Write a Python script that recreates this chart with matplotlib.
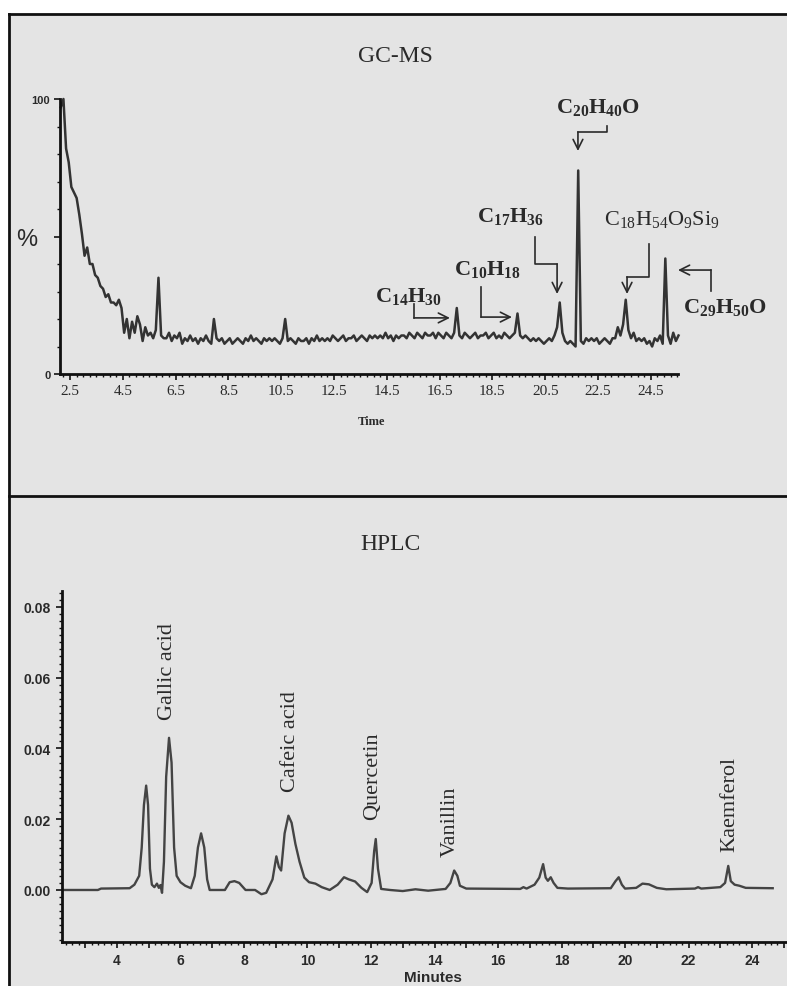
import numpy as np
import matplotlib
matplotlib.use("Agg")
import matplotlib.pyplot as plt
from matplotlib.lines import Line2D
from matplotlib.patches import Rectangle
from matplotlib.ticker import MultipleLocator, FixedLocator, FuncFormatter

plt.rcParams['mathtext.fontset'] = 'custom'
plt.rcParams['mathtext.rm'] = 'Liberation Serif'
plt.rcParams['mathtext.bf'] = 'Liberation Serif:bold'
plt.rcParams['mathtext.it'] = 'Liberation Serif:italic'

W, H = 787, 987

# GC-MS trace, every 0.1 min (percent of max)
gc_time = np.round(np.arange(2.15, 25.6, 0.1), 2)
gc_signal = [
    97, 100, 82, 77, 68, 66, 64, 58, 51, 43,
    46, 40, 40, 36, 35, 32, 31, 28, 29, 26,
    26, 25, 27, 24, 15, 20, 13, 19, 15, 21,
    18, 12, 17, 14, 15, 13, 16, 35, 14, 13,
    13, 15, 12, 14, 13, 15, 11, 13, 12, 14,
    12, 13, 11, 13, 12, 14, 12, 11, 20, 13,
    12, 13, 11, 12, 13, 11, 12, 13, 12, 11,
    13, 12, 14, 12, 13, 12, 11, 13, 12, 13,
    12, 13, 12, 11, 13, 20, 12, 13, 12, 11,
    13, 12, 12, 13, 11, 13, 12, 14, 12, 13,
    12, 13, 12, 14, 13, 12, 13, 14, 12, 13,
    13, 14, 12, 13, 14, 13, 12, 14, 13, 14,
    13, 14, 13, 15, 13, 14, 12, 14, 13, 14,
    14, 13, 15, 14, 13, 15, 14, 13, 15, 14,
    14, 15, 13, 15, 14, 13, 15, 14, 13, 15,
    24, 14, 13, 15, 14, 13, 14, 15, 13, 14,
    14, 15, 13, 14, 15, 13, 14, 13, 15, 14,
    13, 14, 15, 22, 14, 13, 14, 13, 12, 13,
    12, 13, 12, 11, 12, 13, 12, 14, 17, 26,
    15, 12, 11, 12, 11, 10, 74, 12, 11, 13,
    12, 13, 12, 13, 11, 12, 13, 12, 11, 13,
    13, 17, 14, 18, 27, 16, 13, 15, 12, 13,
    12, 13, 11, 12, 10, 13, 12, 14, 11, 42,
    14, 11, 15, 12, 14,
]
gc_ticks = [2.5, 4.5, 6.5, 8.5, 10.5, 12.5, 14.5, 16.5, 18.5, 20.5, 22.5, 24.5]
gc_labels = [r'$\mathbf{C_{14}H_{30}}$', r'$\mathbf{C_{10}H_{18}}$', r'$\mathbf{C_{17}H_{36}}$',
             r'$\mathbf{C_{20}H_{40}O}$', r'$\mathrm{C_{18}H_{54}O_{9}Si_{9}}$', r'$\mathbf{C_{29}H_{50}O}$']

# HPLC trace (minutes, absorbance)
hplc_time = [2.3, 3.0, 3.4, 3.5, 4.4, 4.55, 4.7, 4.78, 4.85, 4.92, 4.98, 5.04, 5.1, 5.18, 5.26,
             5.32, 5.37, 5.42, 5.48, 5.55, 5.64, 5.72, 5.8, 5.88, 6.0, 6.15, 6.33, 6.45, 6.55,
             6.65, 6.75, 6.84, 6.92, 7.4, 7.55, 7.7, 7.85, 8.05, 8.35, 8.55, 8.7, 8.9, 9.02,
             9.1, 9.17, 9.28, 9.4, 9.5, 9.62, 9.75, 9.9, 10.05, 10.25, 10.45, 10.7, 10.95,
             11.15, 11.3, 11.5, 11.7, 11.88, 12.02, 12.1, 12.15, 12.22, 12.32, 12.6, 13.0,
             13.4, 13.8, 14.35, 14.5, 14.62, 14.72, 14.8, 15.0, 16.7, 16.8, 16.9, 17.15, 17.3,
             17.42, 17.5, 17.57, 17.66, 17.75, 17.87, 18.2, 19.55, 19.7, 19.8, 19.9, 20.0,
             20.35, 20.55, 20.75, 21.0, 21.3, 22.2, 22.3, 22.4, 23.0, 23.15, 23.25, 23.33,
             23.45, 23.6, 23.8, 24.65]
hplc_signal = [0.0, 0.0, 0.0, 0.0004, 0.0005, 0.0015, 0.004, 0.012, 0.024, 0.0295, 0.024,
               0.006, 0.0015, 0.0008, 0.0018, 0.0006, 0.0014, -0.0008, 0.008, 0.032, 0.043,
               0.036, 0.012, 0.004, 0.0022, 0.0012, 0.0005, 0.004, 0.012, 0.016, 0.012, 0.003,
               0.0, 0.0, 0.0022, 0.0025, 0.002, 0.0, 0.0, -0.0012, -0.0008, 0.003, 0.0095,
               0.0065, 0.0055, 0.016, 0.021, 0.019, 0.013, 0.008, 0.0035, 0.0022, 0.0018,
               0.0008, 0.0, 0.0015, 0.0036, 0.003, 0.0024, 0.0006, -0.0006, 0.002, 0.011,
               0.0144, 0.006, 0.0003, 0.0, -0.0003, 0.0002, -0.0002, 0.0003, 0.002, 0.0055,
               0.004, 0.0012, 0.0004, 0.0003, 0.0008, 0.0004, 0.0015, 0.0035, 0.0073, 0.0035,
               0.0026, 0.0036, 0.002, 0.0006, 0.0004, 0.0005, 0.0025, 0.0036, 0.0015, 0.0004,
               0.0006, 0.0018, 0.0016, 0.0006, 0.0002, 0.0004, 0.0008, 0.0004, 0.0008, 0.002,
               0.0068, 0.0025, 0.0015, 0.0012, 0.0006, 0.0005]
hplc_compounds = ['Gallic acid', 'Cafeic acid', 'Quercetin', 'Vanillin', 'Kaemferol']


def fx(px):
    return px / W


def fy(py):
    return 1 - py / H


line_col = '#333333'
ax_col = '#111111'
txt_col = '#2a2a2a'

fig = plt.figure(figsize=(W / 100, H / 100), dpi=100)
fig.patch.set_facecolor('#e4e4e4')
fig.add_artist(Rectangle((0, fy(15)), 1, 1 - fy(15), transform=fig.transFigure, color='white', zorder=-5))
fig.add_artist(Rectangle((0, 0), fx(9), 1, transform=fig.transFigure, color='white', zorder=-5))
fig.add_artist(Line2D([fx(9), 1], [fy(15), fy(15)], transform=fig.transFigure, color=ax_col, lw=2))
fig.add_artist(Line2D([fx(9), fx(9)], [0, fy(15)], transform=fig.transFigure, color=ax_col, lw=2))
fig.add_artist(Line2D([fx(9), 1], [fy(497), fy(497)], transform=fig.transFigure, color=ax_col, lw=2))

# ---------------- GC-MS ----------------
ax1 = fig.add_axes([fx(60), fy(375), (678 - 60) / W, (375 - 100) / H])
ax1.set_facecolor('none')
ax1.plot(gc_time, gc_signal, color=line_col, lw=1.8, clip_on=False)
ax1.set_xlim(2.12, 25.53)
ax1.set_ylim(0, 100)
for s in ['top', 'right']:
    ax1.spines[s].set_visible(False)
for s in ['left', 'bottom']:
    ax1.spines[s].set_linewidth(2)
    ax1.spines[s].set_color(ax_col)
ax1.xaxis.set_major_locator(FixedLocator(gc_ticks))
ax1.xaxis.set_minor_locator(MultipleLocator(0.25))
ax1.set_xticklabels([f'{t:g}' for t in gc_ticks], family='Liberation Serif', fontsize=11, color=txt_col)
ax1.yaxis.set_major_locator(FixedLocator([0, 50, 100]))
ax1.yaxis.set_minor_locator(MultipleLocator(10))
ax1.set_yticklabels(['0', '', '100'], family='Liberation Sans', fontsize=8, fontweight='bold', color=txt_col)
ax1.tick_params(which='major', length=4, width=1.2, color=ax_col, pad=3)
ax1.tick_params(which='minor', length=2, width=1, color=ax_col)

fig.text(fx(395), fy(57), 'GC-MS', family='Liberation Serif', fontsize=17, color=txt_col, ha='center', va='center')
fig.text(fx(27), fy(240), '%', family='Liberation Sans', fontsize=17, color=txt_col, ha='center', va='center')
fig.text(fx(372), fy(422), 'Time', family='Liberation Serif', fontsize=9, fontweight='bold', color=txt_col,
         ha='center', va='center')

# peak labels with elbow arrows (data coords)
gc_text_xy = [(15.30, 28.4), (18.3, 38.5), (19.17, 57.5), (22.5, 97.1), (24.92, 56.4), (27.31, 24.7)]
gc_paths = [
    [(15.53, 25.5), (15.53, 20.4), (16.89, 20.4)],
    [(18.07, 31.6), (18.07, 20.7), (19.24, 20.7)],
    [(20.11, 49.8), (20.11, 40.0), (20.95, 40.0), (20.95, 29.1)],
    [(22.84, 90.2), (22.84, 88.0), (21.74, 88.0), (21.74, 81.1)],
    [(24.43, 47.3), (24.43, 35.3), (23.6, 35.3), (23.6, 29.1)],
    [(26.78, 30.2), (26.78, 37.8), (25.53, 37.8)],
]
for lab, (tx, ty), path in zip(gc_labels, gc_text_xy, gc_paths):
    ax1.text(tx, ty, lab, fontsize=16, color=txt_col, ha='center', va='center', clip_on=False)
    xs = [p[0] for p in path[:-1]]
    ys = [p[1] for p in path[:-1]]
    ax1.plot(xs, ys, color=txt_col, lw=1.2, clip_on=False)
    ax1.annotate('', xy=path[-1], xytext=path[-2], annotation_clip=False,
                 arrowprops=dict(arrowstyle='->,head_length=0.7,head_width=0.35', lw=1.2,
                                 color=txt_col, shrinkA=0, shrinkB=0))

# ---------------- HPLC ----------------
ax2 = fig.add_axes([fx(62), fy(943), (787 - 62) / W, (943 - 592) / H])
ax2.set_facecolor('none')
ax2.plot(hplc_time, hplc_signal, color='#444444', lw=1.7)
ax2.set_xlim(2.27, 25.1)
ax2.set_ylim(-0.0147, 0.0845)
for s in ['top', 'right']:
    ax2.spines[s].set_visible(False)
for s in ['left', 'bottom']:
    ax2.spines[s].set_linewidth(2)
    ax2.spines[s].set_color(ax_col)
ax2.xaxis.set_major_locator(MultipleLocator(1))
ax2.xaxis.set_major_formatter(FuncFormatter(lambda v, p: f'{v:.0f}' if round(v) % 2 == 0 else ''))
ax2.xaxis.set_minor_locator(MultipleLocator(0.2))
ax2.yaxis.set_major_locator(MultipleLocator(0.02))
ax2.yaxis.set_major_formatter(FuncFormatter(lambda v, p: f'{v:.2f}' if v > -0.001 else ''))
ax2.yaxis.set_minor_locator(MultipleLocator(0.002))
ax2.tick_params(which='major', length=4, width=1.2, color=ax_col, pad=4)
ax2.tick_params(which='minor', length=2, width=1, color=ax_col)
for lbl in ax2.get_xticklabels() + ax2.get_yticklabels():
    lbl.set_family('Liberation Sans')
    lbl.set_fontweight('bold')
    lbl.set_fontsize(10)
    lbl.set_color(txt_col)

fig.text(fx(390), fy(545), 'HPLC', family='Liberation Serif', fontsize=17, color=txt_col, ha='center', va='center')
fig.text(fx(433), fy(985), 'Minutes', family='Liberation Sans', fontsize=11, fontweight='bold', color=txt_col,
         ha='center', va='bottom')

hplc_label_xy = [(5.58, 0.0619), (9.45, 0.0423), (12.06, 0.0325), (14.49, 0.0195), (23.31, 0.0246)]
for name, (tx, ty) in zip(hplc_compounds, hplc_label_xy):
    ax2.text(tx, ty, name, family='Liberation Serif', fontsize=16, rotation=90, color=txt_col,
             ha='center', va='center')

fig.savefig('out.png', dpi=100)
